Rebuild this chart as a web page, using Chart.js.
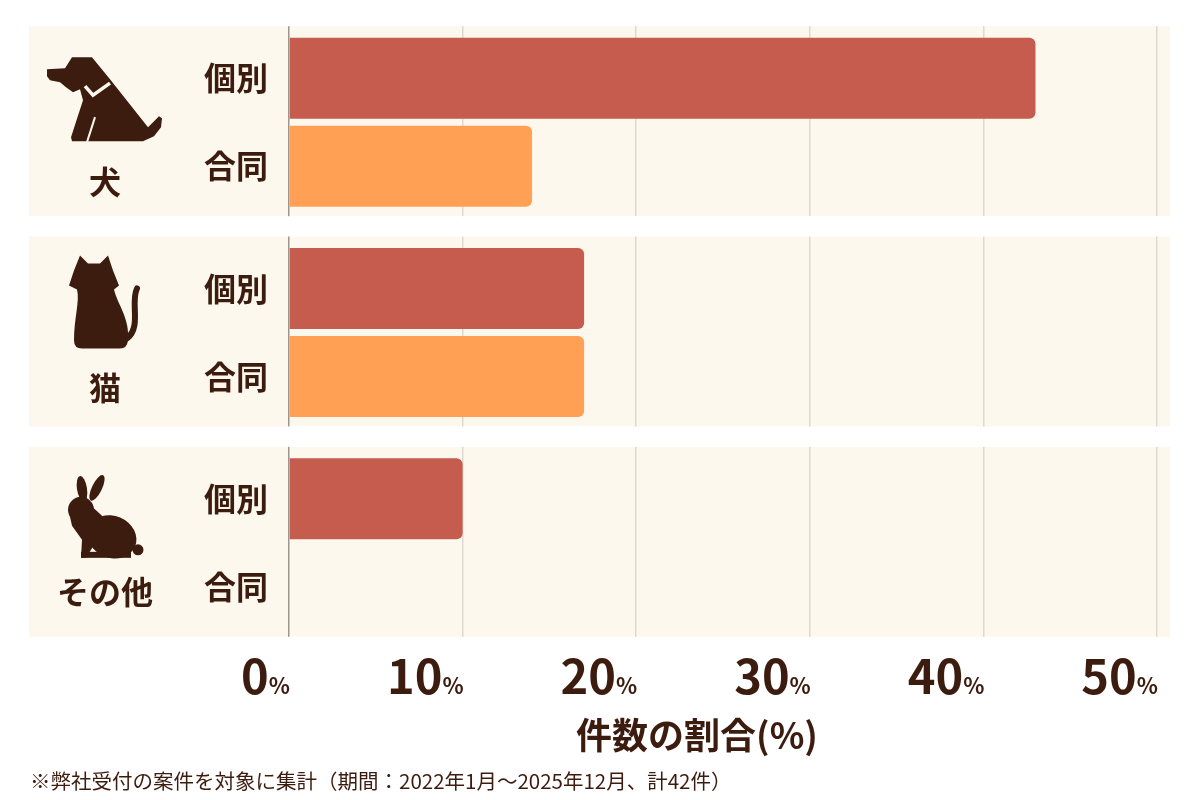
<!DOCTYPE html>
<html lang="ja">
<head>
<meta charset="utf-8">
<script src="https://cdn.jsdelivr.net/npm/chart.js@4.4.1/dist/chart.umd.min.js"></script>
<style>
  html, body { margin: 0; padding: 0; background: #fff; }
  #wrap { position: relative; width: 1200px; height: 800px; }
</style>
</head>
<body>
<div id="wrap"><canvas id="chart"></canvas></div>
<script>
// data
const groups = ['犬', '猫', 'その他'];
const seriesNames = ['個別', '合同'];
const kobetsu = [43, 17, 10];   // % of cases
const goudou = [14, 17, 0];
const xTicks = [0, 10, 20, 30, 40, 50];
const axisTitle = '件数の割合(%)';
const note = '※弊社受付の案件を対象に集計（期間：2022年1月～2025年12月、計42件）';

const BROWN = '#3d1c10';
const FONT = '"Noto Sans CJK JP", "Noto Sans", sans-serif';
const PANEL = '#fdf8ed';

// little silhouettes, drawn around reference centre rows
function poly(ctx, pts) {
    ctx.beginPath();
    pts.forEach((p, i) => i ? ctx.lineTo(p[0], p[1]) : ctx.moveTo(p[0], p[1]));
    ctx.closePath();
    ctx.fill();
}
function drawDog(ctx) {
    poly(ctx, [[47, 69], [65, 68], [72, 57], [92, 57], [110, 79], [148, 127], [159, 116],
        [162, 118], [161, 127], [154, 136], [143, 141], [72, 141], [71, 137], [83, 100],
        [80, 89], [73, 92], [66, 87], [60, 82], [50, 80], [47, 76]]);
    ctx.save();
    ctx.strokeStyle = PANEL;
    ctx.lineWidth = 3.5;
    ctx.beginPath(); ctx.moveTo(85, 86); ctx.lineTo(93, 95); ctx.lineTo(110, 83); ctx.stroke();
    ctx.lineWidth = 2;
    ctx.beginPath(); ctx.moveTo(95, 117); ctx.lineTo(87, 142); ctx.stroke();
    ctx.restore();
}
function drawCat(ctx) {
    ctx.beginPath();
    ctx.moveTo(69, 285); ctx.lineTo(74, 270); ctx.lineTo(80, 255); ctx.lineTo(88, 263);
    ctx.lineTo(100, 263); ctx.lineTo(108, 255); ctx.lineTo(113, 270); ctx.lineTo(119, 285);
    ctx.lineTo(114, 289);
    ctx.bezierCurveTo(118, 305, 130, 318, 128, 340);
    ctx.quadraticCurveTo(127, 348, 120, 348);
    ctx.lineTo(82, 348);
    ctx.quadraticCurveTo(74, 348, 74, 340);
    ctx.bezierCurveTo(74, 318, 80, 300, 77, 289);
    ctx.closePath(); ctx.fill();
    ctx.save();
    ctx.lineWidth = 6; ctx.lineCap = 'round'; ctx.strokeStyle = ctx.fillStyle;
    ctx.beginPath(); ctx.moveTo(127, 338);
    ctx.bezierCurveTo(142, 326, 130, 302, 137, 288);
    ctx.stroke();
    ctx.restore();
}
function drawRabbit(ctx) {
    const e = (x, y, rx, ry, r) => { ctx.beginPath(); ctx.ellipse(x, y, rx, ry, r, 0, Math.PI * 2); ctx.fill(); };
    e(82, 489, 5, 13, -0.15);
    e(97, 488, 5, 14, 0.45);
    e(81, 510, 13, 13, 0);
    e(112, 537, 25, 21, 0.4);
    e(138, 550, 5.5, 5.5, 0);
    poly(ctx, [[70, 517], [90, 505], [102, 516], [96, 542], [86, 558], [81, 558], [82, 540], [72, 526]]);
    ctx.fillRect(81, 552, 50, 6);
}
const icons = [
    { draw: drawDog, refY: 122, labelDy: 60 },
    { draw: drawCat, refY: 332, labelDy: 55 },
    { draw: drawRabbit, refY: 543, labelDy: 49 }
];

const decor = {
    id: 'decor',
    beforeDraw(chart) {
        const { ctx, scales: { y } } = chart;
        ctx.save();
        ctx.fillStyle = '#fff';
        ctx.fillRect(0, 0, chart.width, chart.height);
        ctx.fillStyle = PANEL;
        groups.forEach((g, i) => {
            const cy = y.getPixelForValue(i) - 1;
            ctx.fillRect(29, cy - 95, 1141, 190);
        });
        ctx.restore();
    },
    beforeDatasetsDraw(chart) {
        // cut the grid lines between the panels
        const { ctx, chartArea: a, scales: { y } } = chart;
        ctx.save();
        ctx.fillStyle = '#fff';
        let prev = a.top - 2;
        groups.forEach((g, i) => {
            const cy = y.getPixelForValue(i) - 1;
            ctx.fillRect(a.left - 2, prev, a.right - a.left + 4, cy - 95 - prev);
            prev = cy + 95;
        });
        ctx.fillRect(a.left - 2, prev, a.right - a.left + 4, a.bottom + 2 - prev);
        ctx.restore();
    },
    afterDraw(chart) {
        const { ctx, scales: { x, y } } = chart;
        ctx.save();
        ctx.fillStyle = BROWN;
        ctx.textBaseline = 'middle';
        ctx.textAlign = 'center';

        // group icons and names
        groups.forEach((g, i) => {
            const cy = y.getPixelForValue(i);
            const ic = icons[i];
            ctx.save();
            ctx.translate(0, cy - ic.refY);
            ic.draw(ctx);
            ctx.restore();
            ctx.font = 'bold 32px ' + FONT;
            ctx.fillText(g, 105, cy + ic.labelDy);
        });

        // series labels next to each bar
        ctx.font = 'bold 32px ' + FONT;
        seriesNames.forEach((s, d) => {
            chart.getDatasetMeta(d).data.forEach(bar => {
                ctx.fillText(s, 236, bar.y);
            });
        });

        // tick labels, number big and % small, right edge on the grid line
        xTicks.forEach(v => {
            const px = x.getPixelForValue(v);
            ctx.textAlign = 'right';
            ctx.textBaseline = 'alphabetic';
            ctx.font = 'bold 22px ' + FONT;
            ctx.fillText('%', px + 1, 694);
            const w = ctx.measureText('%').width;
            ctx.font = 'bold 47px ' + FONT;
            ctx.fillText(String(v), px - w + 1, 694);
        });

        ctx.textAlign = 'center';
        ctx.textBaseline = 'middle';
        ctx.font = 'bold 36px ' + FONT;
        ctx.fillText(axisTitle, 697, 735);

        ctx.textAlign = 'left';
        ctx.font = '20.5px ' + FONT;
        ctx.fillText(note, 30, 781);
        ctx.restore();
    }
};

new Chart(document.getElementById('chart'), {
    type: 'bar',
    data: {
        labels: groups,
        datasets: [
            {
                label: seriesNames[0],
                data: kobetsu,
                backgroundColor: '#c55c4d',
                borderRadius: 6,
                borderSkipped: 'start',
                categoryPercentage: 0.837,
                barPercentage: 0.92
            },
            {
                label: seriesNames[1],
                data: goudou,
                backgroundColor: '#ffa054',
                borderRadius: 6,
                borderSkipped: 'start',
                categoryPercentage: 0.837,
                barPercentage: 0.92
            }
        ]
    },
    options: {
        indexAxis: 'y',
        responsive: true,
        maintainAspectRatio: false,
        animation: false,
        layout: {
            padding: { left: 289, right: 43, top: 17, bottom: 152 }
        },
        plugins: {
            legend: { display: false },
            tooltip: { enabled: false }
        },
        scales: {
            x: {
                min: 0,
                max: 50,
                ticks: { display: false, stepSize: 10 },
                border: { display: false },
                grid: {
                    drawTicks: false,
                    lineWidth: 1.5,
                    color: c => c.tick && c.tick.value === 0 ? '#9b9690' : '#ddd9d2'
                }
            },
            y: {
                display: false
            }
        }
    },
    plugins: [decor]
});
</script>
</body>
</html>
